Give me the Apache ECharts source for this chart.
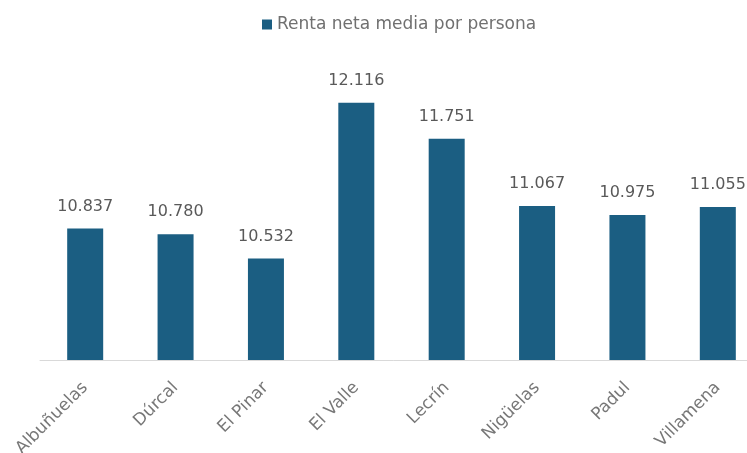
<!DOCTYPE html>
<html><head><meta charset="utf-8">
<script src="https://cdn.jsdelivr.net/npm/echarts@6/dist/echarts.min.js"></script>
<style>html,body{margin:0;padding:0;background:#fff}#c{width:747px;height:453px}</style>
</head><body><div id="c"></div>
<script>
const categories = ["Albuñuelas","Dúrcal","El Pinar","El Valle","Lecrín","Nigüelas","Padul","Villamena"];
const values = [10837, 10780, 10532, 12116, 11751, 11067, 10975, 11055];
const seriesName = "Renta neta media por persona";

const FONT = 'DejaVu Sans';
const chart = echarts.init(document.getElementById('c'));
chart.setOption({
  animation: false,
  textStyle: { fontFamily: FONT },
  legend: {
    top: 11, left: 257,
    itemWidth: 10, itemHeight: 10, itemGap: 6,
    icon: 'rect',
    textStyle: { fontSize: 17, color: '#707070', fontFamily: FONT },
    data: [seriesName]
  },
  grid: { left: 40, width: 723, top: 65, bottom: 93, containLabel: false, outerBoundsMode: 'none' },
  xAxis: {
    type: 'category', data: categories,
    axisLine: { lineStyle: { color: '#d9d9d9', width: 1 } },
    axisTick: { show: false },
    axisLabel: { rotate: 45, fontSize: 17, color: '#777777', margin: 25, interval: 0, fontFamily: FONT, hideOverlap: false }
  },
  yAxis: {
    type: 'value', min: 9500, max: 12500, interval: 500,
    show: false, splitLine: { show: false }
  },
  series: [{
    name: seriesName, type: 'bar', data: values,
    barWidth: 36,
    itemStyle: { color: '#1b5e82' },
    label: {
      show: true, position: 'top', distance: 14,
      fontSize: 16, color: '#595959', fontFamily: FONT,
      formatter: p => String(p.value).replace(/(\d+)(\d{3})$/, '$1.$2')
    }
  }]
});
</script></body></html>
